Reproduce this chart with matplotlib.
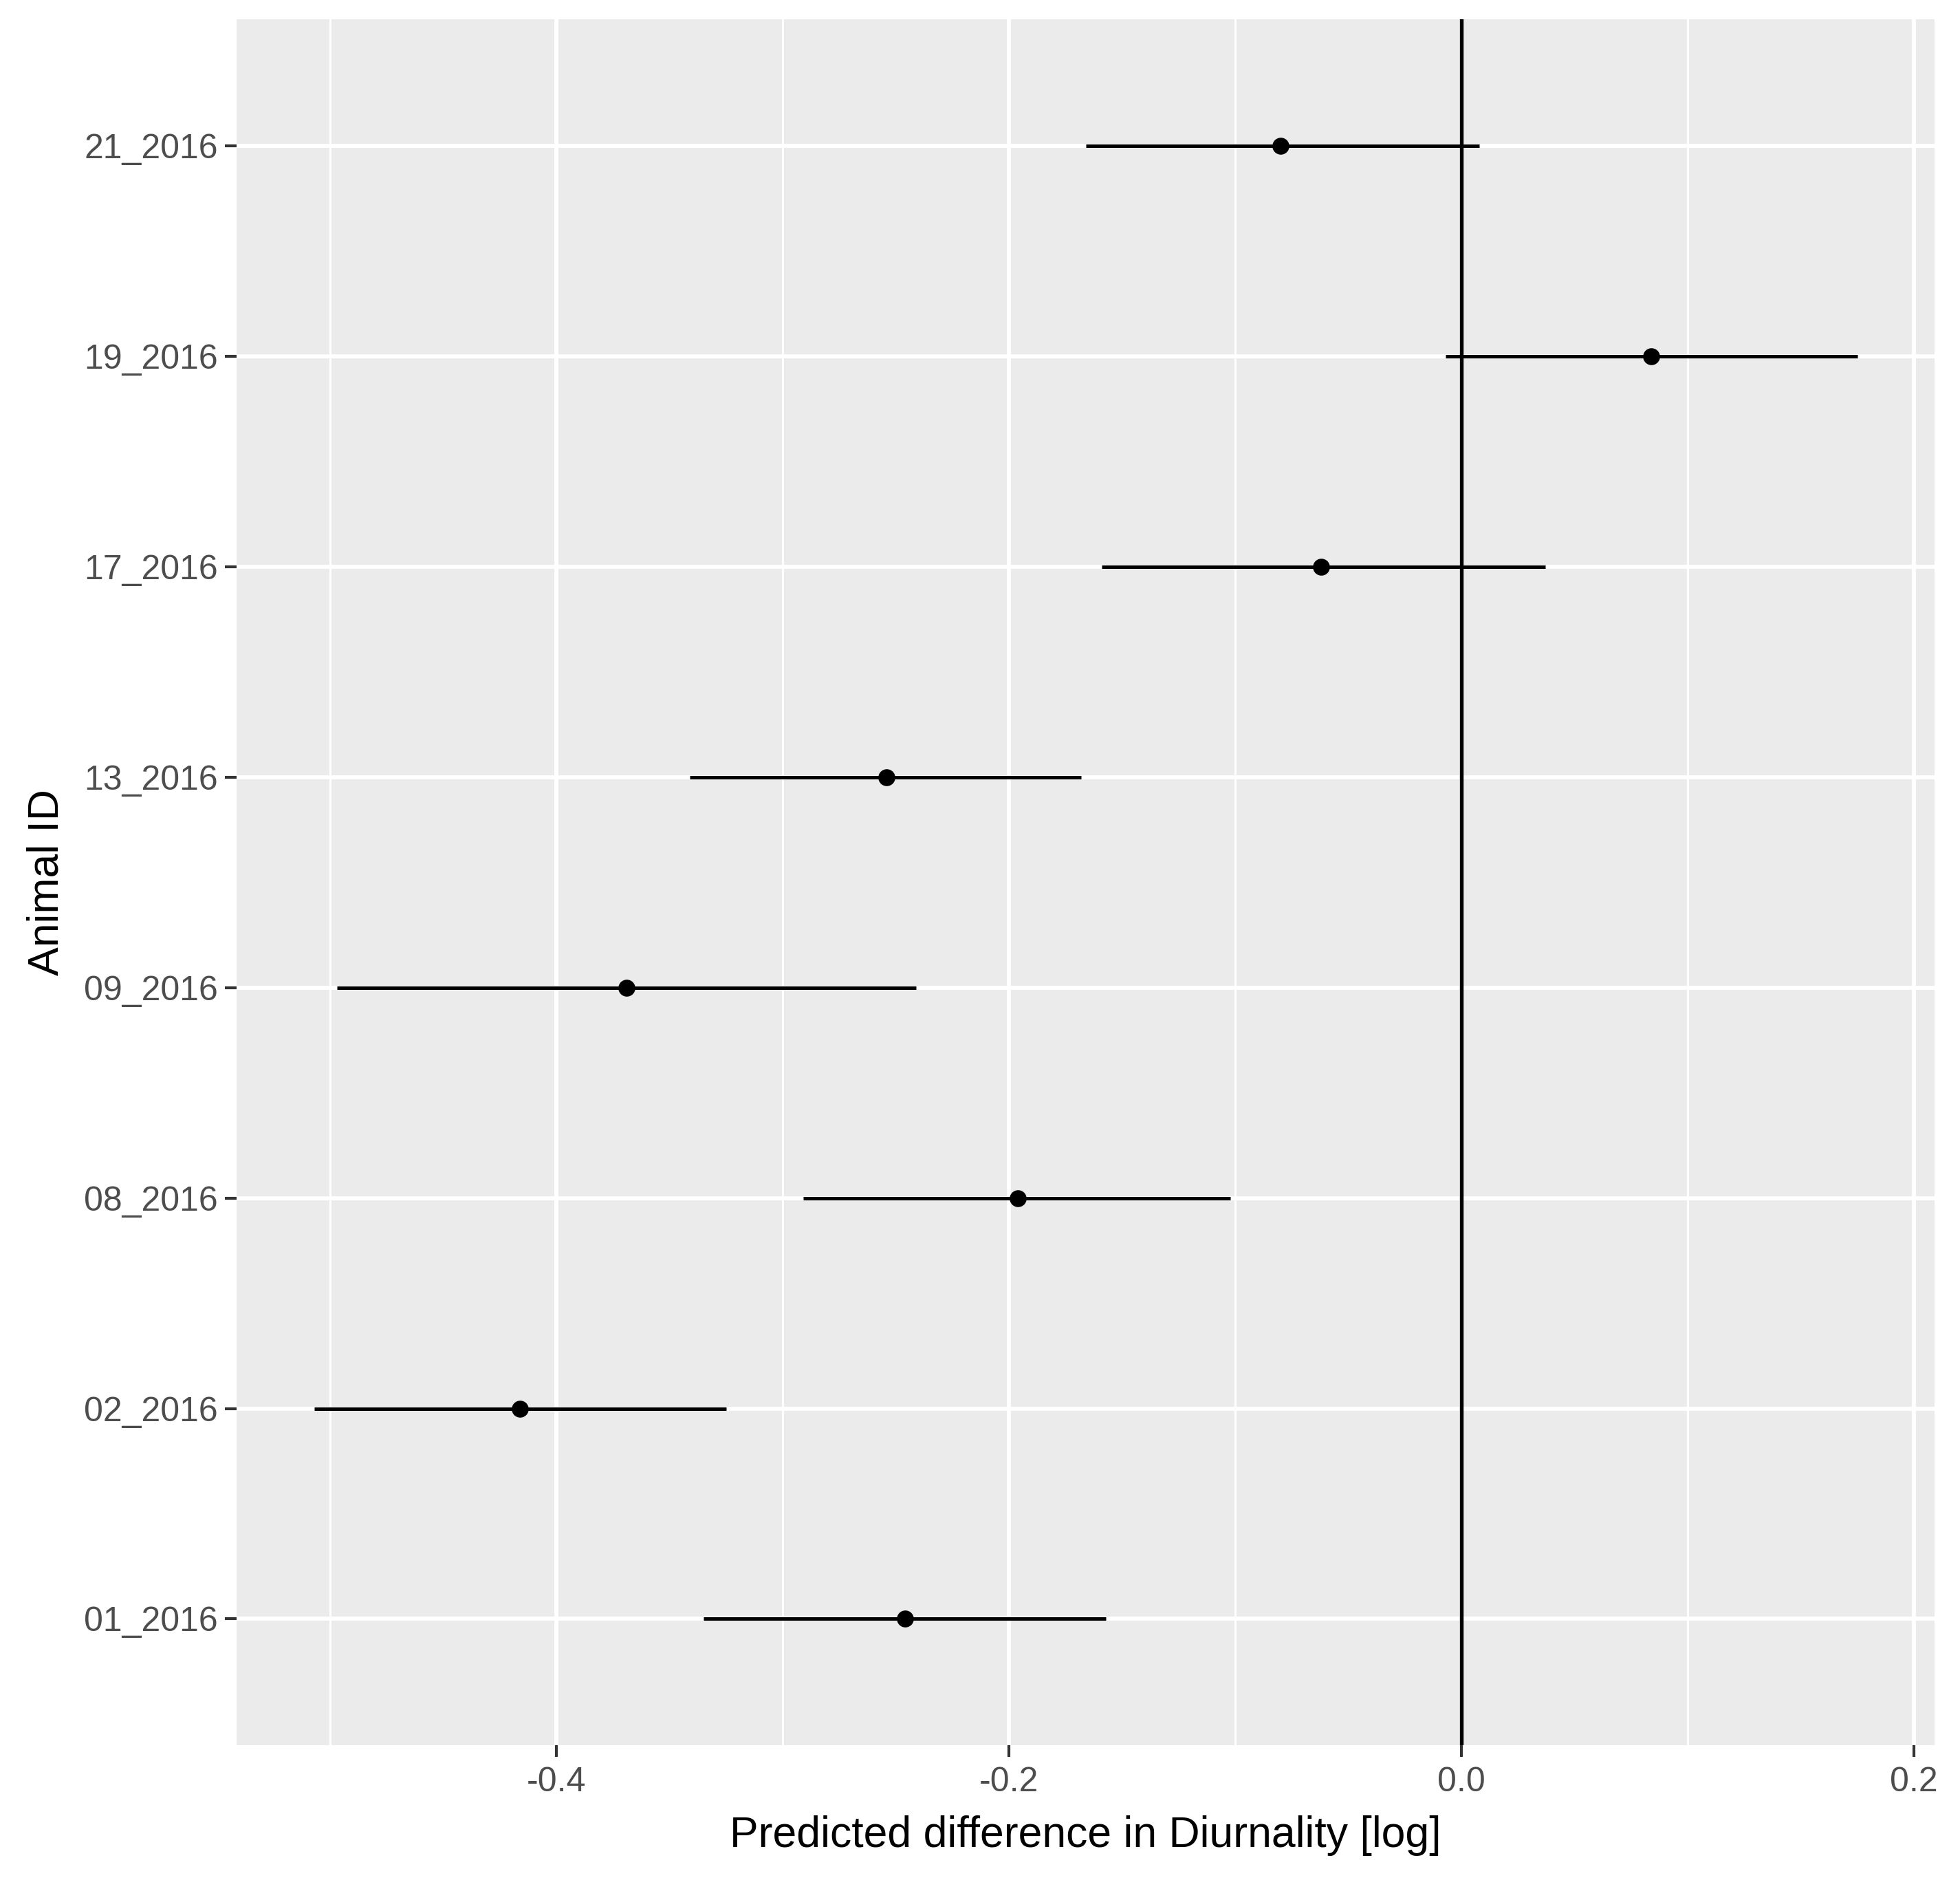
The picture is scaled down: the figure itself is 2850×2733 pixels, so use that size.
import matplotlib
matplotlib.use("Agg")
import matplotlib.pyplot as plt
from matplotlib.ticker import MultipleLocator

# Animal IDs, bottom to top
animals = ["01_2016", "02_2016", "08_2016", "09_2016", "13_2016", "17_2016", "19_2016", "21_2016"]
estimate = [-0.246, -0.416, -0.196, -0.369, -0.254, -0.062, 0.084, -0.080]
lower = [-0.335, -0.507, -0.291, -0.497, -0.341, -0.159, -0.007, -0.166]
upper = [-0.157, -0.325, -0.102, -0.241, -0.168, 0.037, 0.175, 0.008]

plt.rcParams['font.family'] = ['Liberation Sans', 'DejaVu Sans']

fig = plt.figure(figsize=(9.5, 9.11), dpi=300)
ax = fig.add_axes([0.1207, 0.0717, 0.8663, 0.918])
ax.set_facecolor("#EBEBEB")

ypos = list(range(1, len(animals) + 1))

ax.axvline(0, color="black", lw=1.3, zorder=3)
ax.hlines(ypos, lower, upper, color="black", lw=1.2, zorder=4)
ax.plot(estimate, ypos, "o", color="black", ms=4.9, mec="black", zorder=5)

ax.set_xlim(-0.5413, 0.2091)
ax.set_ylim(0.4, 8.6)
ax.xaxis.set_major_locator(MultipleLocator(0.2))
ax.xaxis.set_minor_locator(MultipleLocator(0.1))
ax.set_yticks(ypos)
ax.set_yticklabels(animals)

def fmt(v, pos):
    return f"{v:.1f}"
ax.xaxis.set_major_formatter(plt.FuncFormatter(fmt))
ax.xaxis.set_minor_formatter(plt.NullFormatter())

ax.grid(which="major", color="white", lw=1.4)
ax.grid(which="minor", axis="x", color="white", lw=0.7)
ax.set_axisbelow(True)

for s in ax.spines.values():
    s.set_visible(False)

ax.tick_params(which="major", length=4, width=1.0, color="#333333",
               labelsize=12, labelcolor="#4D4D4D", pad=2.5)
ax.tick_params(axis="x", which="major", pad=3.5)
ax.tick_params(which="minor", length=0)

ax.set_xlabel("Predicted difference in Diurnality [log]", fontsize=15, labelpad=6)
ax.set_ylabel("Animal ID", fontsize=15, labelpad=6)

fig.savefig("out.png", dpi=300, facecolor="white")
